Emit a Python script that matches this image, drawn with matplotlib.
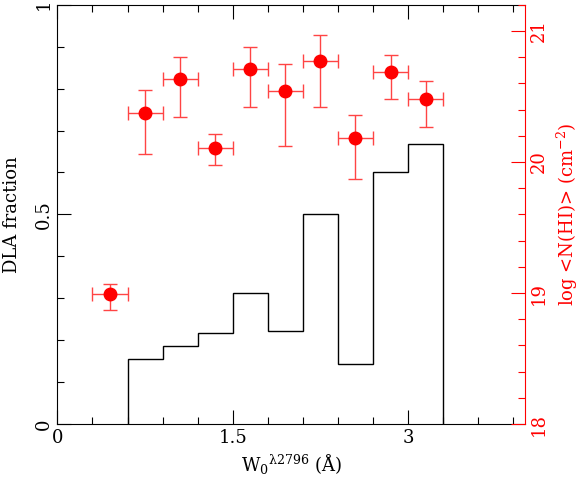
import matplotlib
matplotlib.use("Agg")
import matplotlib.pyplot as plt
from matplotlib.ticker import MultipleLocator
import numpy as np

# Histogram: DLA fraction per W0 bin
bin_edges = [0.6, 0.9, 1.2, 1.5, 1.8, 2.1, 2.4, 2.7, 3.0, 3.3]
dla_fraction = [0.156, 0.185, 0.217, 0.313, 0.222, 0.5, 0.143, 0.6, 0.667]

# Mean log N(HI) points
w0_centers = [0.45, 0.75, 1.05, 1.35, 1.65, 1.95, 2.25, 2.55, 2.85, 3.15]
w0_halfwidth = [0.15] * 10
logN = [18.99, 20.37, 20.63, 20.11, 20.71, 20.54, 20.77, 20.18, 20.69, 20.48]
logN_up = [19.07, 20.55, 20.80, 20.21, 20.88, 20.75, 20.97, 20.36, 20.82, 20.62]
logN_lo = [18.87, 20.06, 20.34, 19.98, 20.42, 20.12, 20.42, 19.87, 20.48, 20.27]

plt.rcParams['font.family'] = ['DejaVu Serif']
plt.rcParams['mathtext.default'] = 'regular'
fig = plt.figure(figsize=(5.81, 4.96), dpi=100)
ax = fig.add_axes([0.0988, 0.145, 0.8048, 0.8455])
ax.stairs(dla_fraction, bin_edges, baseline=0, color='black', lw=1.0)
ax.set_xlim(0, 4)
ax.set_ylim(0, 1)
ax.xaxis.set_major_locator(MultipleLocator(1.5))
ax.xaxis.set_minor_locator(MultipleLocator(0.3))
ax.yaxis.set_major_locator(MultipleLocator(0.5))
ax.yaxis.set_minor_locator(MultipleLocator(0.1))
ax.set_xticks([0, 1.5, 3])
ax.set_xticklabels(['0', '1.5', '3'])
ax.set_yticks([0, 0.5, 1])
ax.set_yticklabels(['0', '0.5', '1'], rotation=90, va='center')
ax.tick_params(which='both', direction='in', top=True, right=False, labelsize=13)
ax.tick_params(which='major', length=10, width=0.8)
ax.tick_params(which='minor', length=5, width=0.8)
ax.spines['right'].set_visible(False)
ax.set_xlabel(r'W$_0$$^{\lambda2796}$ (Å)', fontsize=13)
ax.set_ylabel('DLA fraction', fontsize=13, labelpad=10)

ax2 = ax.twinx()
yerr = [np.array(logN) - np.array(logN_lo), np.array(logN_up) - np.array(logN)]
ax2.errorbar(w0_centers, logN, xerr=w0_halfwidth, yerr=yerr, fmt='o', color='red',
             ms=9, elinewidth=1.0, capsize=5, capthick=1.0, ecolor='#ff4444')
ax2.set_ylim(18, 21.2)
ax2.yaxis.set_major_locator(MultipleLocator(1))
ax2.yaxis.set_minor_locator(MultipleLocator(0.2))
ax2.set_yticks([18, 19, 20, 21])
ax2.set_yticklabels(['18', '19', '20', '21'], rotation=90, va='center')
ax2.tick_params(which='both', direction='in', colors='red', labelsize=13)
ax2.tick_params(which='major', length=10, width=0.8)
ax2.tick_params(which='minor', length=5, width=0.8)
ax2.spines['right'].set_color('red')
for s in ['left', 'top', 'bottom']:
    ax2.spines[s].set_visible(False)
ax2.set_ylabel(r'log <N(HI)> (cm$^{-2}$)', color='red', fontsize=13, labelpad=5)

fig.savefig('out.png', dpi=100)
